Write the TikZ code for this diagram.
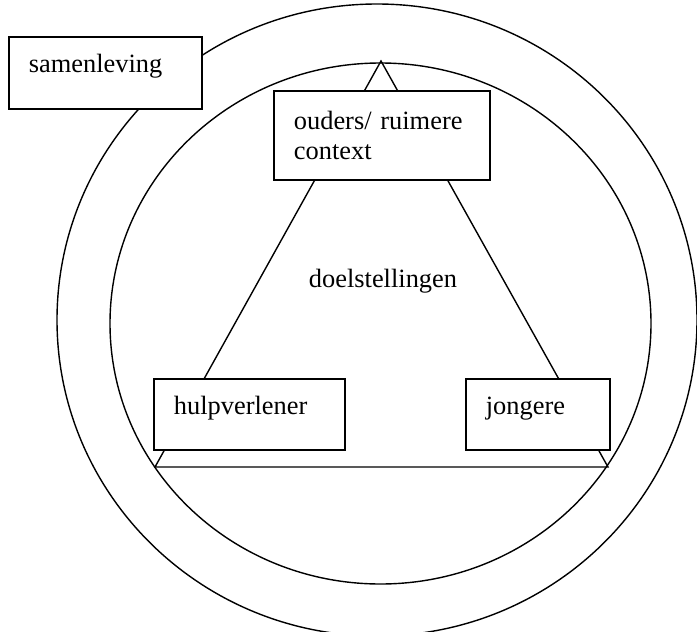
\documentclass[tikz,border=0pt]{standalone}
\usepackage{fontspec}
\setmainfont{Liberation Serif}

\begin{document}
\begin{tikzpicture}[x=0.5pt,y=-0.5pt,
        tekst/.style={font=\fontsize{13.2}{15.2}\selectfont},
        lijn/.style={line width=0.7pt},
        vak/.style={tekst,draw,line width=0.9pt,fill=white,anchor=north west,align=left,inner xsep=10pt,inner ysep=0pt},
        eenregel/.style={text height=9pt,text depth=9pt}]
        \newcommand{\figeenbuitencx}{377}
        \newcommand{\figeenbuitency}{320}
        \newcommand{\figeenbinnencx}{380.5}
        \newcommand{\figeenbinnency}{323.5}
        \newcommand{\figeendriehoeky}{467}
        \newcommand{\figeenvakonder}{378}
        \useasboundingbox (0,0) rectangle (697,632);
        \draw[lijn] (\figeenbuitencx,\figeenbuitency) ellipse [x radius=160pt, y radius=158pt];
        \draw[lijn] (\figeenbinnencx,\figeenbinnency) ellipse [x radius=135.25pt, y radius=130.25pt];
        \coordinate (top) at (381,61);
        \coordinate (linksonder) at (155,\figeendriehoeky);
        \coordinate (rechtsonder) at (608,\figeendriehoeky);
        \draw[lijn] (top) -- (linksonder) -- (rechtsonder) -- cycle;
        \node[vak,eenregel,text width=76.5pt,minimum height=36pt] (samenleving) at (8,36) {samenleving};
        \node[vak,text width=88pt,minimum height=44.5pt] (ouders) at (273,90) {ouders/ ruimere\\context};
        \node[vak,eenregel,text width=75.5pt,minimum height=35.5pt] (hulpverlener) at (153,\figeenvakonder) {hulpverlener};
        \node[vak,eenregel,text width=52pt,minimum height=35.5pt] (jongere) at (465,\figeenvakonder) {jongere};
        \node[tekst,anchor=base] (doelstellingen) at (383,287) {doelstellingen};
    \end{tikzpicture}
\end{document}
